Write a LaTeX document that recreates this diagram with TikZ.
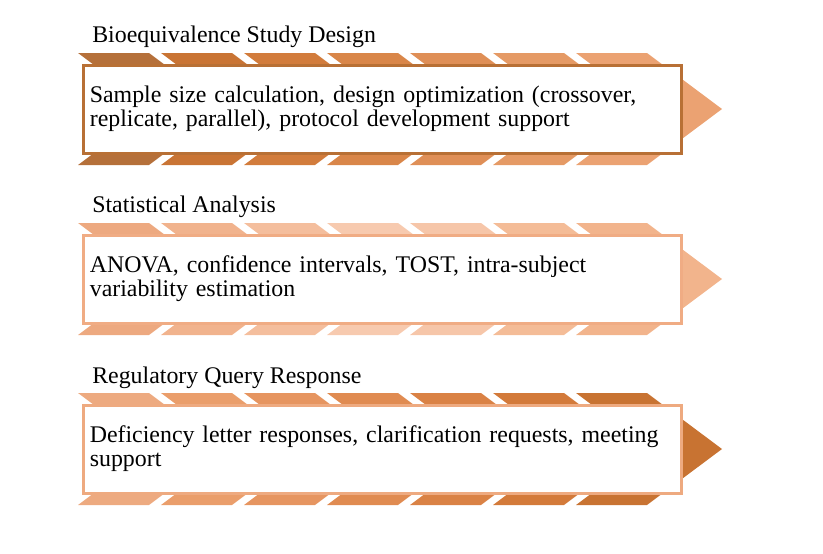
\documentclass[tikz,border=0pt]{standalone}
\usepackage{fontspec}
\setmainfont{Liberation Serif}
\usetikzlibrary{positioning}

% chevron colours, row by row
\definecolor{c10}{HTML}{B5703A}
\definecolor{c11}{HTML}{C97434}
\definecolor{c12}{HTML}{D27C3C}
\definecolor{c13}{HTML}{D98649}
\definecolor{c14}{HTML}{DF8F57}
\definecolor{c15}{HTML}{E59A65}
\definecolor{c16}{HTML}{EBA272}
\definecolor{c20}{HTML}{EDA980}
\definecolor{c21}{HTML}{F1B38D}
\definecolor{c22}{HTML}{F4BE9D}
\definecolor{c23}{HTML}{F7CAAF}
\definecolor{c24}{HTML}{F6C6A9}
\definecolor{c25}{HTML}{F4BC97}
\definecolor{c26}{HTML}{F2B48C}
\definecolor{c30}{HTML}{EDAA80}
\definecolor{c31}{HTML}{EA9E6B}
\definecolor{c32}{HTML}{E69560}
\definecolor{c33}{HTML}{E08B51}
\definecolor{c34}{HTML}{DA8245}
\definecolor{c35}{HTML}{D37A3A}
\definecolor{c36}{HTML}{C87332}
\definecolor{edgeA}{HTML}{B87035}
\definecolor{edgeB}{HTML}{F0AC84}
\definecolor{edgeC}{HTML}{EEAA80}

\tikzset{
  card/.style={draw=#1,line width=2.25pt,fill=white,minimum width=449pt,
    minimum height=66pt,text width=439pt,inner sep=5pt,align=left,
    font=\fontsize{17.9}{18}\selectfont},
  heading/.style={anchor=base west,inner sep=0pt,font=\fontsize{17.9}{18}\selectfont}
}

\begin{document}
\begin{tikzpicture}[x=0.75pt,y=-0.75pt]
  \useasboundingbox (0,0) rectangle (823,553);
  \foreach \r/\y in {1/0,2/170,3/340}
    \foreach \k in {0,...,6}
      \fill[c\r\k] (78+83*\k,53+\y) -- ++(71,0) -- ++(75,56) -- ++(-75,56)
        -- ++(-71,0) -- ++(75,-56) -- cycle;
  \node[card=edgeA] (box1) at (382.5,109) {Sample size calculation, design optimization (crossover,\\replicate, parallel), protocol development support};
  \node[card=edgeB] (box2) at (382.5,279) {ANOVA, confidence intervals, TOST, intra-subject\\variability estimation};
  \node[card=edgeC] (box3) at (382.5,449) {Deficiency letter responses, clarification requests, meeting\\support};
  \node[heading] (lab1) at (92,42) {Bioequivalence Study Design};
  \node[heading] (lab2) at (92,212) {Statistical Analysis};
  \node[heading] (lab3) at (92,383) {Regulatory Query Response};
\end{tikzpicture}
\end{document}
